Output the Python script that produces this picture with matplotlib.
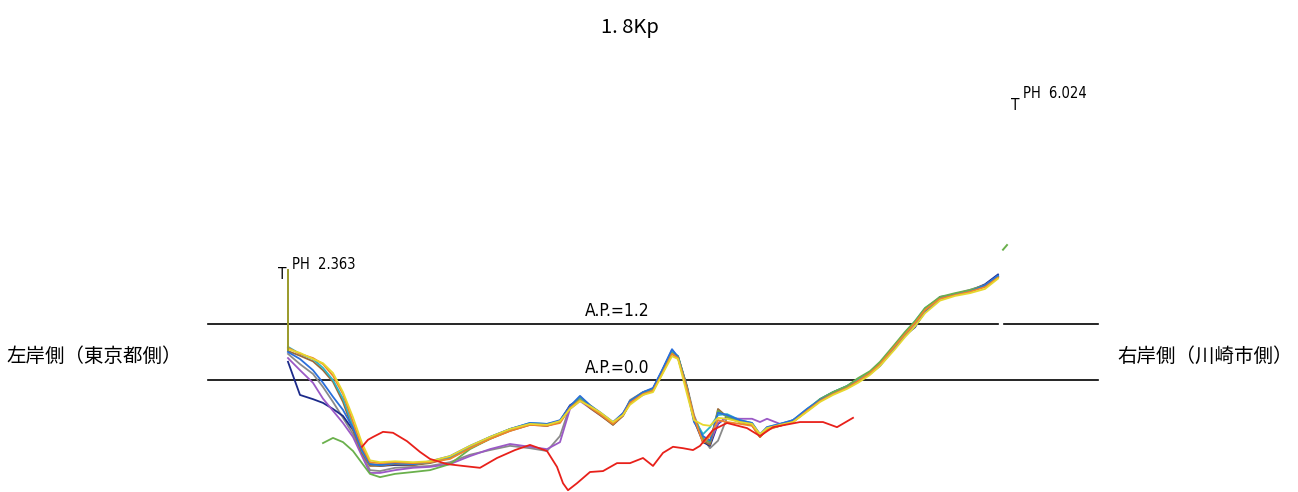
import matplotlib
matplotlib.use("Agg")
import matplotlib.pyplot as plt
import numpy as np

# cross section 1.8Kp, distance from left bank post (m) vs elevation (A.P. m)
title = "1. 8Kp"
left_bank = "左岸側（東京都側）"
right_bank = "右岸側（川崎市側）"

# survey stations shared by the bundled lines
sta = [0, 12, 25, 35, 45, 55, 65, 74, 82, 92, 107, 125, 142, 162, 182, 202, 222, 242, 259, 272,
       282, 292, 302, 312, 325, 335, 342, 355, 365, 374, 384, 390, 399, 406, 415, 422, 430, 439, 452, 464,
       472, 479, 492, 505, 519, 532, 545, 559, 570, 582, 592, 607, 617, 627, 637, 652, 667, 682, 697, 710]

z_blue = [0.60, 0.45, 0.21, -0.06, -0.36, -0.64, -1.03, -1.50, -1.80, -1.82,
          -1.78, -1.80, -1.74, -1.63, -1.41, -1.22, -1.05, -0.92, -0.94, -0.86,
          -0.56, -0.34, -0.54, -0.69, -0.90, -0.71, -0.45, -0.26, -0.17, 0.21,
          0.66, 0.49, -0.21, -0.90, -1.20, -1.30, -0.70, -0.75, -0.86, -0.92,
          -1.16, -1.01, -0.94, -0.86, -0.62, -0.43, -0.30, -0.17, -0.02, 0.13,
          0.30, 0.69, 0.94, 1.15, 1.45, 1.74, 1.82, 1.89, 2.03, 2.24]
z_navy = [0.39, -0.32, -0.41, -0.49, -0.62, -0.77, -1.07, -1.46, -1.80, -1.84,
          -1.82, -1.82, -1.76, -1.65, -1.43, -1.24, -1.05, -0.94, -0.98, -0.88,
          -0.54, -0.41, -0.58, -0.73, -0.94, -0.75, -0.49, -0.30, -0.19, 0.19,
          0.64, 0.49, -0.15, -0.86, -1.33, -1.41, -0.94, -0.79, -0.88, -0.96,
          -1.22, -1.05, -0.98, -0.86, -0.66, -0.41, -0.26, -0.13, 0.02, 0.15,
          0.32, 0.71, 0.96, 1.13, 1.48, 1.78, 1.82, 1.91, 2.05, 2.26]
z_purple = [0.47, 0.21, -0.06, -0.40, -0.66, -0.92, -1.22, -1.63, -1.99, -1.99,
            -1.93, -1.88, -1.86, -1.80, -1.63, -1.48, -1.37, -1.43, -1.48, -1.33,
            -0.62, -0.45, -0.60, -0.75, -0.94, -0.71, -0.49, -0.32, -0.21, 0.15,
            0.56, 0.47, -0.19, -0.79, -1.26, -1.35, -0.92, -0.81, -0.83, -0.83,
            -0.90, -0.83, -0.94, -0.88, -0.66, -0.45, -0.28, -0.15, 0.00, 0.17,
            0.34, 0.73, 0.98, 1.22, 1.50, 1.76, 1.84, 1.93, 2.03, 2.22]
z_orange = [0.69, 0.56, 0.47, 0.34, 0.09, -0.30, -0.90, -1.43, -1.76, -1.78,
            -1.76, -1.78, -1.76, -1.69, -1.46, -1.26, -1.09, -0.96, -0.98, -0.92,
            -0.60, -0.43, -0.58, -0.73, -0.94, -0.75, -0.49, -0.30, -0.23, 0.13,
            0.56, 0.47, -0.19, -0.79, -1.35, -1.20, -0.86, -0.90, -0.94, -0.98,
            -1.22, -1.07, -0.98, -0.90, -0.66, -0.45, -0.30, -0.17, -0.02, 0.15,
            0.34, 0.73, 0.98, 1.22, 1.50, 1.74, 1.82, 1.89, 1.99, 2.19]
z_yellow = [0.66, 0.58, 0.45, 0.36, 0.15, -0.26, -0.80, -1.35, -1.72, -1.76,
            -1.74, -1.76, -1.74, -1.63, -1.41, -1.22, -1.05, -0.94, -0.96, -0.88,
            -0.62, -0.45, -0.56, -0.69, -0.90, -0.75, -0.53, -0.32, -0.26, 0.11,
            0.51, 0.45, -0.30, -0.86, -0.96, -0.98, -0.81, -0.83, -0.90, -0.94,
            -1.16, -1.03, -0.96, -0.90, -0.68, -0.47, -0.32, -0.19, -0.06, 0.11,
            0.30, 0.66, 0.92, 1.15, 1.43, 1.70, 1.80, 1.86, 1.95, 2.17]
z_cyan = [0.71, 0.56, 0.45, 0.26, 0.00, -0.40, -0.98, -1.52, -1.80, -1.82,
          -1.78, -1.80, -1.76, -1.65, -1.43, -1.22, -1.05, -0.92, -0.94, -0.88,
          -0.58, -0.39, -0.56, -0.71, -0.92, -0.73, -0.47, -0.28, -0.19, 0.19,
          0.62, 0.51, -0.17, -0.83, -1.16, -1.01, -0.75, -0.73, -0.86, -0.92,
          -1.18, -1.01, -0.94, -0.86, -0.62, -0.41, -0.26, -0.13, 0.02, 0.17,
          0.36, 0.75, 1.01, 1.26, 1.54, 1.76, 1.84, 1.91, 2.01, 2.22]
z_gray = [0.56, 0.34, 0.13, -0.15, -0.47, -0.81, -1.16, -1.58, -1.93, -1.95,
          -1.88, -1.86, -1.84, -1.76, -1.60, -1.50, -1.41, -1.46, -1.52, -1.20,
          -0.56, -0.41, -0.58, -0.73, -0.96, -0.75, -0.43, -0.26, -0.19, 0.15,
          0.58, 0.51, -0.13, -0.75, -1.24, -1.46, -1.30, -0.81, -0.90, -0.96,
          -1.20, -1.05, -0.96, -0.88, -0.64, -0.43, -0.28, -0.15, 0.00, 0.17,
          0.36, 0.75, 1.00, 1.24, 1.52, 1.76, 1.84, 1.91, 2.01, 2.21]
z_brown = [0.62, 0.52, 0.40, 0.21, -0.04, -0.47, -1.07, -1.56, -1.84, -1.84,
           -1.80, -1.82, -1.78, -1.67, -1.46, -1.26, -1.09, -0.96, -0.98, -0.90,
           -0.58, -0.41, -0.60, -0.75, -0.96, -0.77, -0.49, -0.30, -0.23, 0.15,
           0.58, 0.49, -0.19, -0.83, -1.30, -1.39, -0.62, -0.79, -0.90, -0.96,
           -1.22, -1.05, -0.98, -0.90, -0.66, -0.45, -0.30, -0.17, 0.00, 0.15,
           0.34, 0.73, 0.98, 1.22, 1.50, 1.76, 1.84, 1.91, 2.01, 2.21]
z_green = [None, None, None, -1.35, -1.24, -1.33, -1.52, -1.78, -2.01, -2.08,
           -2.01, -1.97, -1.93, -1.80, -1.48, -1.26, -1.07, -0.94, -0.96, -0.88,
           -0.58, -0.36, -0.54, -0.71, -0.92, -0.73, -0.45, -0.26, -0.19, 0.17,
           0.58, 0.51, -0.17, -0.81, -1.26, -1.33, -0.66, -0.79, -0.88, -0.94,
           -1.18, -1.03, -0.96, -0.88, -0.64, -0.41, -0.26, -0.13, 0.04, 0.19,
           0.39, 0.77, 1.03, 1.26, 1.54, 1.78, 1.86, 1.93, 2.03, 2.21]

# the odd one out
x_red = [74, 80, 85, 95, 105, 119, 132, 142, 159, 175, 192, 209, 227, 242, 259, 269, 275, 280, 289, 302,
         315, 329, 342, 355, 365, 375, 385, 395, 405, 412, 425, 439, 459, 472, 485, 512, 535, 549, 565]
z_red = [-1.43, -1.28, -1.22, -1.11, -1.13, -1.31, -1.54, -1.69, -1.80, -1.84, -1.88, -1.67, -1.50, -1.39,
         -1.52, -1.86, -2.21, -2.36, -2.21, -1.97, -1.95, -1.78, -1.78, -1.67, -1.84, -1.56, -1.43, -1.46,
         -1.50, -1.41, -1.07, -0.92, -1.03, -1.20, -1.01, -0.90, -0.90, -1.01, -0.81]

# posts and the stray green bit on the right bank
x_post_left = [0, 0]
z_post_left = [2.36, 0.64]
x_fleck = [715, 719]
z_fleck = [2.79, 2.89]

ph_left, ph_right = 2.363, 6.024
ph_left_x, ph_right_x = -6, 727
ap_levels = [1.2, 0.0]
ap_span = (-80, 810)
ap_gap = (710, 716)

series = [
    (z_gray, "#8a8a8a"), (z_navy, "#1c2a8a"), (z_purple, "#9b59c6"), (z_brown, "#9a6a3a"),
    (z_cyan, "#2bb5c8"), (z_green, "#6ab04c"), (z_blue, "#2a6fdb"), (z_orange, "#f0862a"),
    (z_yellow, "#e6d82e"),
]

fig = plt.figure(figsize=(12.98, 4.92), dpi=100)
ax = fig.add_axes([0, 0, 1, 1])
ax.set_xlim(-288, 1010)
ax.set_ylim(-2.398, 8.137)
ax.axis("off")

# A.P. reference lines
ax.plot([ap_span[0], ap_gap[0]], [ap_levels[0]] * 2, color="black", lw=1.2)
ax.plot([ap_gap[1], ap_span[1]], [ap_levels[0]] * 2, color="black", lw=1.2)
ax.plot(list(ap_span), [ap_levels[1]] * 2, color="black", lw=1.2)

nar = dict(family="DejaVu Sans", fontstretch="condensed")
ax.text(329, 1.28, "A.P.=1.2", ha="center", va="bottom", fontsize=12.5, **nar)
ax.text(329, 0.07, "A.P.=0.0", ha="center", va="bottom", fontsize=12.5, **nar)

for z, c in series:
    zz = np.array([np.nan if v is None else v for v in z], dtype=float)
    ax.plot(sta, zz, color=c, lw=1.3)
ax.plot(x_red, z_red, color="#e8201a", lw=1.3)
ax.plot(x_post_left, z_post_left, color="#9a9a2a", lw=1.4)
ax.plot(x_fleck, z_fleck, color="#6ab04c", lw=1.4)

# PH post labels
ax.text(ph_left_x, ph_left + 0.06, "T", ha="center", va="top", fontsize=11, **nar)
ax.text(ph_left_x + 10, ph_left + 0.12, "PH  2.363", ha="left", va="center", fontsize=10.5, **nar)
ax.text(ph_right_x, ph_right + 0.02, "T", ha="center", va="top", fontsize=11, **nar)
ax.text(ph_right_x + 8, ph_right + 0.12, "PH  6.024", ha="left", va="center", fontsize=10.5, **nar)

cjk = ["Noto Sans CJK JP", "DejaVu Sans"]
fig.text(630 / 1298, 1 - 27 / 492, title, ha="center", va="center", fontsize=14.5, family=cjk)
fig.text(94 / 1298, 1 - 356 / 492, left_bank, ha="center", va="center", fontsize=14, family=cjk)
fig.text(1205 / 1298, 1 - 356 / 492, right_bank, ha="center", va="center", fontsize=14, family=cjk)

fig.savefig("out.png", dpi=100)
